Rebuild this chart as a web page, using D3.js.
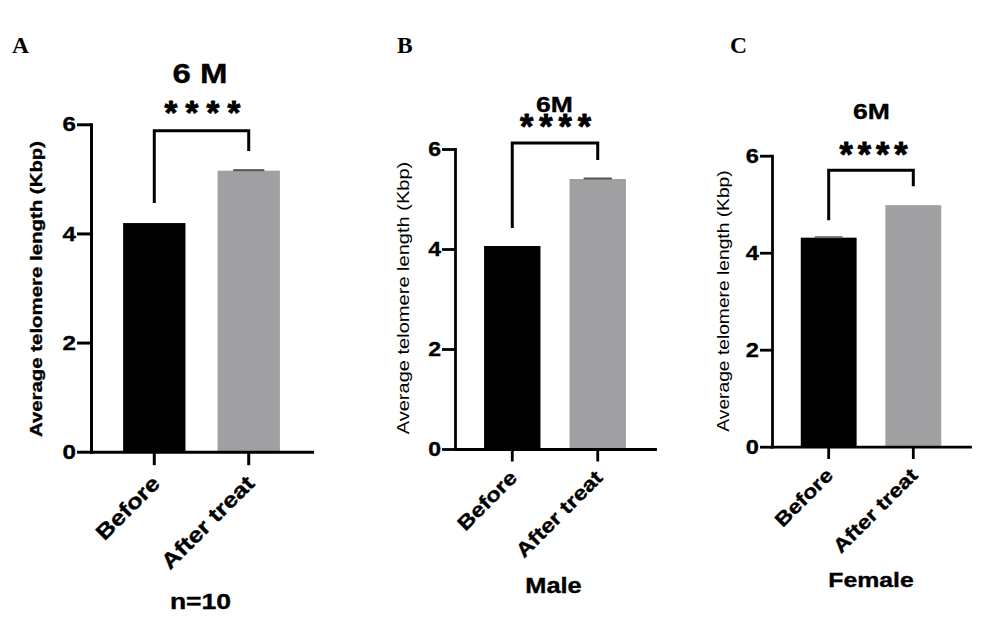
<!DOCTYPE html>
<html>
<head>
<meta charset="utf-8">
<script src="https://cdn.jsdelivr.net/npm/d3@7"></script>
<style>
  html, body { margin: 0; padding: 0; background: #fff; }
  svg { display: block; }
  text { font-family: "Liberation Sans", Arial, sans-serif; fill: #000; }
  text.heavy { stroke: #000; stroke-width: 0.35; }
  .letter { font-family: "Liberation Serif", "Times New Roman", serif; }
</style>
</head>
<body>
<div id="chart"></div>
<script>
// groups on the x axis
const categories = ["Before", "After treat"];
const yTicks = [0, 2, 4, 6];

// mean telomere length (Kbp) and SEM
const meansAll = [4.19, 5.15];
const semAll = [0, 0.01];
const meansMale = [4.06, 5.40];
const semMale = [0, 0.01];
const meansFemale = [4.31, 4.98];
const semFemale = [0.01, 0];

// significance bracket: left foot, top, right foot (Kbp)
const bracketAll = [4.56, 5.88, 5.51];
const bracketMale = [4.42, 6.12, 5.78];
const bracketFemale = [4.67, 5.70, 5.37];
const sigLabel = "****";
const yLabel = "Average telomere length (Kbp)";

const barColors = ["#000000", "#a0a0a3"];
const SX = 1.18; // the figure's font is wider than Arial
const FONT = '"Liberation Sans", Arial, sans-serif';

const svg = d3.select("#chart").append("svg")
    .attr("width", 1000)
    .attr("height", 629);

const panels = [
    {
        letter: "A", letterX: 12,
        title: "6 M", titleSize: 28, titleX: 200, titleY: 83,
        means: meansAll, sem: semAll, bracket: bracketAll,
        stars: { x: 202.5, top: 101.5, h: 12.5, spacing: 21 },
        xRange: [91, 312], yRange: [451.7, 124.3],
        yTick: 14, xTick: 13.5, axisW: 3,
        tickFont: 20.5, tickPad: 1,
        yTitle: { x: 41.6, y: 289, size: 17.3, weight: "bold" },
        xLab: { size: 21.5, dx: 7, dy: 19.5 },
        foot: { text: "n=10", x: 200.5, y: 609, size: 22.5 }
    },
    {
        letter: "B", letterX: 397,
        title: "6M", titleSize: 22.5, titleX: 554.5, titleY: 112,
        means: meansMale, sem: semMale, bracket: bracketMale,
        stars: { x: 555.5, top: 114, h: 13, spacing: 19.3 },
        xRange: [455, 655], yRange: [449, 149],
        yTick: 13, xTick: 12.5, axisW: 2.8,
        tickFont: 19.5, tickPad: 1,
        yTitle: { x: 409.4, y: 298, size: 17, weight: "normal" },
        xLab: { size: 20, dx: 6, dy: 17.5 },
        foot: { text: "Male", x: 553.5, y: 593, size: 21.5 }
    },
    {
        letter: "C", letterX: 730,
        title: "6M", titleSize: 22.5, titleX: 871.5, titleY: 119,
        means: meansFemale, sem: semFemale, bracket: bracketFemale,
        stars: { x: 873.5, top: 142, h: 13, spacing: 18.2 },
        xRange: [772, 970], yRange: [446.7, 155.7],
        yTick: 12, xTick: 12.3, axisW: 2.8,
        tickFont: 20, tickPad: 1,
        yTitle: { x: 728.6, y: 301, size: 16.3, weight: "normal" },
        xLab: { size: 19.5, dx: 5.5, dy: 17.5 },
        foot: { text: "Female", x: 871, y: 587, size: 21 }
    }
];

// measure the asterisk glyph so the stars can be fitted to their box
const ctx = document.createElement("canvas").getContext("2d");
ctx.font = `bold 100px ${FONT}`;
const starM = ctx.measureText("*");
const starAsc = starM.actualBoundingBoxAscent / 100;
const starDesc = starM.actualBoundingBoxDescent / 100; // negative: glyph sits above baseline
const starH = starAsc + starDesc;

function addText(g, str, x, y, o) {
    const weight = o.weight || "bold";
    return g.append("text")
        .attr("class", weight === "bold" ? "heavy" : null)
        .attr("transform", `translate(${x},${y}) rotate(${o.rotate || 0}) scale(${o.sx || SX},1)`)
        .attr("text-anchor", o.anchor || "middle")
        .attr("font-size", o.size)
        .attr("font-weight", weight)
        .text(str);
}

function drawPanel(p) {
    const g = svg.append("g");

    const x = d3.scaleBand()
        .domain(categories)
        .range(p.xRange)
        .paddingInner(0.34)
        .paddingOuter(0.34);
    const y = d3.scaleLinear().domain([0, 6]).range(p.yRange);
    const bw = x.bandwidth();

    // bars
    g.selectAll(".bar")
        .data(categories)
        .join("rect")
        .attr("x", d => x(d))
        .attr("width", bw)
        .attr("y", (d, i) => y(p.means[i]))
        .attr("height", (d, i) => y(0) - y(p.means[i]))
        .attr("fill", (d, i) => barColors[i]);

    // error caps (SEM is tiny, only the cap shows)
    categories.forEach((c, i) => {
        if (!p.sem[i]) return;
        const cx = x(c) + bw / 2;
        g.append("line")
            .attr("x1", cx - bw / 4).attr("x2", cx + bw / 4)
            .attr("y1", y(p.means[i] + p.sem[i])).attr("y2", y(p.means[i] + p.sem[i]))
            .attr("stroke", i === 0 ? "#6a6a6a" : "#555")
            .attr("stroke-width", 2);
    });

    // y axis
    const yAxis = g.append("g")
        .attr("transform", `translate(${p.xRange[0]},0)`)
        .call(d3.axisLeft(y).tickValues(yTicks).tickFormat(d3.format("d"))
            .tickSize(p.yTick).tickSizeOuter(0).tickPadding(p.tickPad));
    yAxis.selectAll(".tick text")
        .attr("class", "heavy")
        .attr("x", null)
        .attr("transform", `translate(${-(p.yTick + p.tickPad)},0) scale(${SX},1)`)
        .attr("font-size", p.tickFont)
        .attr("font-weight", "bold")
        .attr("font-family", null);

    // x axis
    const xAxis = g.append("g")
        .attr("transform", `translate(0,${y(0)})`)
        .call(d3.axisBottom(x).tickSize(p.xTick).tickSizeOuter(0));
    xAxis.selectAll(".tick text")
        .attr("class", "heavy")
        .attr("x", 0).attr("y", 0).attr("dy", null)
        .attr("text-anchor", "end")
        .attr("transform", `translate(${p.xLab.dx},${p.xTick + p.xLab.dy}) rotate(-45) scale(${SX},1)`)
        .attr("font-size", p.xLab.size)
        .attr("font-weight", "bold")
        .attr("font-family", null);

    [yAxis, xAxis].forEach(a => {
        a.select(".domain").attr("stroke", "#000").attr("stroke-width", p.axisW)
            .attr("stroke-linecap", "square");
        a.selectAll(".tick line").attr("stroke", "#000").attr("stroke-width", p.axisW);
    });

    // significance bracket
    const x0 = x(categories[0]) + bw / 2;
    const x1 = x(categories[1]) + bw / 2;
    const b = p.bracket;
    g.append("path")
        .attr("d", d3.line()([[x0, y(b[0])], [x0, y(b[1])], [x1, y(b[1])], [x1, y(b[2])]]))
        .attr("fill", "none")
        .attr("stroke", "#000")
        .attr("stroke-width", 3)
        .attr("stroke-linejoin", "miter");

    // stars, fitted to the glyph box
    const starSize = p.stars.h / starH;
    const ls = p.stars.spacing - 0.389 * starSize;
    g.append("text")
        .attr("x", p.stars.x).attr("y", p.stars.top + starAsc * starSize)
        .attr("dx", ls / 2)
        .attr("text-anchor", "middle")
        .attr("font-size", starSize)
        .attr("font-weight", "bold")
        .attr("letter-spacing", ls)
        .attr("stroke", "#000")
        .attr("stroke-width", 0.9)
        .attr("stroke-linejoin", "round")
        .text(sigLabel);

    // titles and labels
    addText(g, p.title, p.titleX, p.titleY, { size: p.titleSize });
    addText(g, yLabel, p.yTitle.x, p.yTitle.y, { size: p.yTitle.size, weight: p.yTitle.weight, rotate: -90 });
    addText(g, p.foot.text, p.foot.x, p.foot.y, { size: p.foot.size });

    g.append("text")
        .attr("class", "letter")
        .attr("x", p.letterX).attr("y", 53)
        .attr("font-size", 23.5)
        .attr("font-weight", "bold")
        .text(p.letter);
}

panels.forEach(drawPanel);
</script>
</body>
</html>
